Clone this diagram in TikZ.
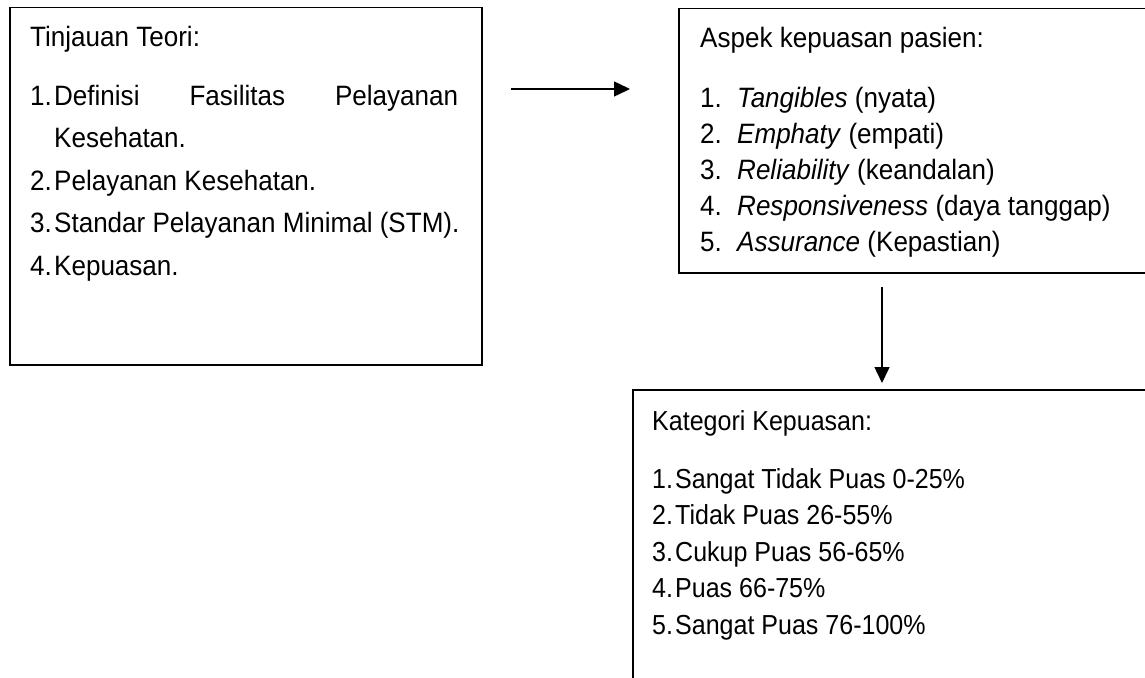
\documentclass[tikz,border=0pt]{standalone}
\usepackage{fontspec}
\setmainfont{Liberation Sans}
\newfontfamily\narrowA[FakeStretch=0.93]{Liberation Sans}
\newfontfamily\narrowB[FakeStretch=0.91]{Liberation Sans}
\usetikzlibrary{arrows.meta}
\tikzset{
  box/.style={draw=black, line width=1.5pt, rectangle, inner sep=0pt, anchor=north west},
  txtA/.style={anchor=base west, inner sep=0pt, font=\narrowA\fontsize{28}{32}\selectfont},
  txtB/.style={anchor=base west, inner sep=0pt, font=\narrowB\fontsize{27.5}{32}\selectfont},
  arr/.style={line width=1.5pt, -{Triangle[length=16pt,width=15pt]}}
}
\begin{document}
\begin{tikzpicture}[x=1pt,y=-1pt]
\useasboundingbox (0,0) rectangle (1145,677);
\fill[white] (0,0) rectangle (1145,677);
\clip (0,0) rectangle (1145,677);
% boxes
\node[box, minimum width=472pt, minimum height=357pt] (b1) at (9,7) {};
\node[box, minimum width=500pt, minimum height=264pt] (b2) at (678,8) {};
\node[box, minimum width=560pt, minimum height=330pt] (b3) at (632,389) {};
% box 1 text
\node[txtA] (b1h) at (30,47) {Tinjauan Teori:};
\node[txtA] (b1i1) at (30,105) {\makebox[24pt][l]{1.}\makebox[404pt]{Definisi\hfill Fasilitas\hfill Pelayanan}};
\node[txtA] (b1i1b) at (54,147) {Kesehatan.};
\node[txtA] (b1i2) at (30,190) {\makebox[24pt][l]{2.}Pelayanan Kesehatan.};
\node[txtA] (b1i3) at (30,232) {\makebox[24pt][l]{3.}Standar Pelayanan Minimal (STM).};
\node[txtA] (b1i4) at (30,275) {\makebox[24pt][l]{4.}Kepuasan.};
% box 2 text
\node[txtA] (b2h) at (700,48) {Aspek kepuasan pasien:};
\node[txtA] (b2i1) at (700,107) {\makebox[37pt][l]{1.}\textit{Tangibles} (nyata)};
\node[txtA] (b2i2) at (700,143) {\makebox[37pt][l]{2.}\textit{Emphaty} (empati)};
\node[txtA] (b2i3) at (700,179) {\makebox[37pt][l]{3.}\textit{Reliability} (keandalan)};
\node[txtA] (b2i4) at (700,215) {\makebox[37pt][l]{4.}\textit{Responsiveness} (daya tanggap)};
\node[txtA] (b2i5) at (700,251) {\makebox[37pt][l]{5.}\textit{Assurance} (Kepastian)};
% box 3 text
\node[txtB] (b3h) at (652,430) {Kategori Kepuasan:};
\node[txtB] (b3i1) at (652,488) {\makebox[23pt][l]{1.}Sangat Tidak Puas 0-25\%};
\node[txtB] (b3i2) at (652,524) {\makebox[23pt][l]{2.}Tidak Puas 26-55\%};
\node[txtB] (b3i3) at (652,561) {\makebox[23pt][l]{3.}Cukup Puas 56-65\%};
\node[txtB] (b3i4) at (652,597) {\makebox[23pt][l]{4.}Puas 66-75\%};
\node[txtB] (b3i5) at (652,634) {\makebox[23pt][l]{5.}Sangat Puas 76-100\%};
% arrows
\coordinate (a1s) at (511,89);
\coordinate (a1e) at (630,89);
\coordinate (a2s) at (882,287);
\coordinate (a2e) at (882,383);
\draw[arr] (a1s) -- (a1e);
\draw[arr] (a2s) -- (a2e);
\end{tikzpicture}
\end{document}
